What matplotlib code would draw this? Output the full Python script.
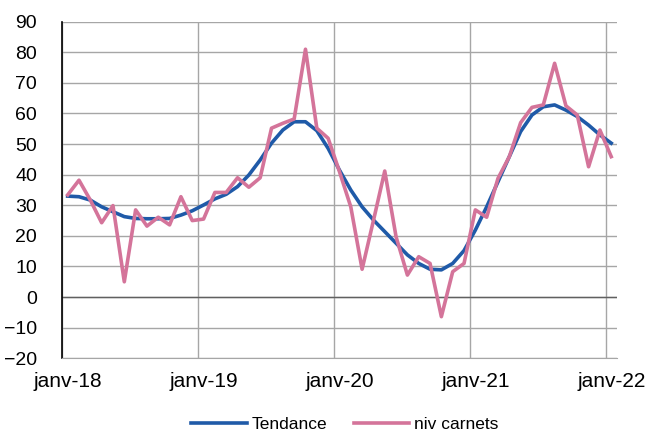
import numpy as np
import pandas as pd
import matplotlib
matplotlib.use('Agg')
import matplotlib.pyplot as plt

plt.rcParams['font.family'] = ['Liberation Sans', 'DejaVu Sans']

# series mensuelles janv-18 -> janv-22
mois = pd.date_range('2018-01-01', periods=49, freq='MS')
niv_carnets = [33.4, 38.2, 31.7, 24.3, 29.9, 5.0, 28.5, 23.2, 26.1, 23.6, 32.8, 25.0,
               25.5, 34.2, 34.2, 39.0, 35.9, 39.0, 55.2, 56.8, 58.2, 81.0, 55.2, 51.9,
               41.0, 29.5, 9.1, 25.0, 41.2, 19.7, 7.2, 13.2, 11.0, -6.4, 8.3, 11.0,
               28.5, 26.1, 38.8, 45.9, 57.0, 62.0, 62.8, 76.4, 62.5, 59.5, 42.6, 54.6,
               45.9]
tendance = [33.0, 32.8, 31.7, 29.5, 27.9, 26.3, 25.7, 25.6, 25.6, 25.7, 26.8, 28.2,
            30.1, 32.1, 33.6, 36.1, 39.9, 44.8, 50.3, 54.6, 57.3, 57.3, 54.4, 48.6,
            41.5, 35.0, 29.5, 25.2, 21.4, 17.6, 13.8, 11.0, 9.1, 8.9, 11.0, 15.2,
            21.9, 29.5, 37.7, 45.9, 54.1, 59.5, 62.2, 62.8, 61.1, 59.0, 56.2, 53.0,
            50.3]
annees = ['janv-18', 'janv-19', 'janv-20', 'janv-21', 'janv-22']

# points au milieu de chaque mois
x = np.arange(len(mois)) + 0.5

fig = plt.figure(figsize=(6.48, 4.32), dpi=100)
ax = fig.add_axes([0.0957, 0.1706, 0.8563, 0.7792])

ax.plot(x, tendance, color='#1f5aa8', lw=2.6, label='Tendance', zorder=3)
ax.plot(x, niv_carnets, color='#d4749a', lw=2.6, label='niv carnets', zorder=4)

ax.set_xlim(0, 49)
ax.set_ylim(-20, 90)
ax.set_yticks(np.arange(-20, 91, 10))

# grille verticale aux debuts d'annee, libelles centres sur janvier
ax.set_xticks([0, 12, 24, 36, 48])
ax.set_xticklabels([])
ax.set_xticks(np.array([0, 12, 24, 36, 48]) + 0.5, minor=True)
ax.set_xticklabels(annees, minor=True)
ax.tick_params(axis='x', which='both', length=0, labelsize=15, pad=10)
ax.tick_params(axis='y', length=0, labelsize=14, pad=18)

ax.grid(True, which='major', color='#a6a6a6', lw=1)
ax.axhline(0, color='#606060', lw=1, zorder=2)

for s in ['top', 'right']:
    ax.spines[s].set_visible(False)
ax.spines['left'].set_color('black')
ax.spines['left'].set_linewidth(1.2)
ax.spines['bottom'].set_color('#a6a6a6')

ax.legend(loc='center', bbox_to_anchor=(0.51, -0.197), ncol=2, frameon=False,
          fontsize=12.5, handlelength=3.2, handletextpad=0.3, columnspacing=1.5)

fig.savefig('out.png', dpi=100)
